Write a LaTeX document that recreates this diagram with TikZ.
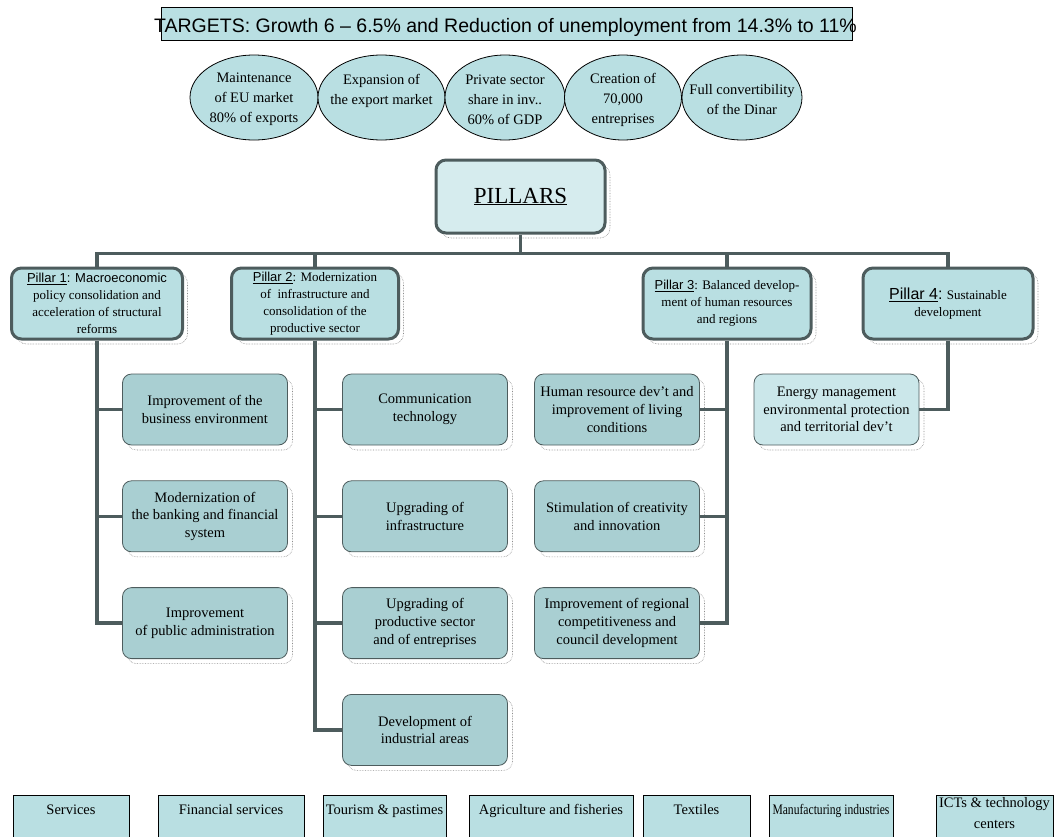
\documentclass[tikz,border=0pt]{standalone}
\usepackage{fontspec}
\setmainfont{Liberation Serif}
\newfontfamily\arialfont{Liberation Sans}
\usepackage{graphicx}
\usepackage{tikz}
\usetikzlibrary{positioning,shapes.geometric,shadows}

\definecolor{tealpale}{HTML}{D6ECEE}
\definecolor{teallight}{HTML}{B9DFE2}
\definecolor{tealmid}{HTML}{A9CFD2}
\definecolor{tealsoft}{HTML}{CBE7EA}
\definecolor{slate}{HTML}{4D5C5D}

\newcommand{\pil}[1]{{\arialfont\underline{Pillar #1}}}

\begin{document}
\begin{tikzpicture}[x=1pt,y=-1pt,
  dotshadow/.style={general shadow={draw=black!45,line width=0.6pt,densely dotted,shadow xshift=5pt,shadow yshift=-5pt}},
  goal/.style={ellipse,draw=black,line width=0.8pt,fill=teallight,minimum height=85pt,inner sep=0pt},
  goaltxt/.style={align=center,font=\fontsize{14.5}{20}\selectfont},
  pillar/.style={draw=slate,line width=3pt,fill=teallight,rounded corners=10pt,align=center,
    minimum width=169pt,minimum height=71pt,inner sep=2pt,font=\fontsize{13}{17}\selectfont,dotshadow},
  sub/.style={draw=slate,line width=0.8pt,fill=#1,rounded corners=9pt,align=center,
    minimum width=165pt,minimum height=71pt,inner sep=2pt,font=\fontsize{14.5}{17.7}\selectfont,dotshadow},
  sector/.style={draw=black,line width=0.8pt,fill=teallight,anchor=north,inner xsep=0pt,inner ysep=8pt,
    text height=11pt,text depth=40pt,font=\fontsize{14.5}{21}\selectfont},
  trunk/.style={draw=slate,line width=3.5pt}]
\useasboundingbox (0,0) rectangle (1058,836);

% targets
\node[draw=black,line width=0.8pt,fill=teallight,minimum width=691pt,minimum height=33pt,inner sep=0pt] (tbox) at (506.5,23.5) {};
\node[anchor=base,inner sep=0pt,font=\arialfont\fontsize{19.5}{22}\selectfont] (targets) at (505.5,32) {TARGETS: Growth 6 – 6.5\% and Reduction of unemployment from 14.3\% to 11\%};

\node[goal,minimum width=128pt] (g1) at (254,97.5) {};
\node[goal,minimum width=127pt] (g2) at (381.5,97.5) {};
\node[goal,minimum width=120pt] (g3) at (505,97.5) {};
\node[goal,minimum width=117pt] (g4) at (623,97.5) {};
\node[goal,minimum width=120pt] (g5) at (742,97.5) {};
\node[goaltxt] (g1t) at ([yshift=-2pt]g1.center) {Maintenance\\of EU market\\80\% of exports};
\node[goaltxt] (g2t) at ([yshift=-2pt]g2.center) {Expansion of\\the export market\\\mbox{}};
\node[goaltxt] (g3t) at ([yshift=-2pt]g3.center) {Private sector\\share in inv..\\60\% of GDP};
\node[goaltxt] (g4t) at ([yshift=-2pt]g4.center) {Creation of\\70,000\\entreprises};
\node[goaltxt] (g5t) at ([yshift=-2pt]g5.center) {Full convertibility\\of the Dinar};

% pillars
\node[draw=slate,line width=3pt,fill=tealpale,rounded corners=10pt,minimum width=169pt,minimum height=73pt,
  font=\fontsize{23}{27}\selectfont,dotshadow] (pillars) at (520.5,196.5) {\underline{PILLARS}};
\coordinate (bus) at ([yshift=-19pt]pillars.south);

\node[pillar,minimum width=171pt] (p1) at (97,303.5) {\pil{1}{\arialfont: Macroeconomic}\\policy consolidation and\\acceleration of structural\\reforms};
\node[pillar,minimum width=167pt] (p2) at (315,303.5) {\pil{2}: Modernization\\of \ infrastructure and\\consolidation of the\\productive sector};
\node[pillar,minimum width=168pt] (p3) at (727,303.5) {\pil{3}: Balanced develop-\\ment of human resources\\and regions};
\node[pillar,minimum width=170pt] (p4) at (948,303.5) {{\arialfont\fontsize{16}{17}\selectfont\underline{Pillar 4}:} Sustainable\\development};

% sub-objectives
\node[sub=tealmid] (c11) at (205,409.5) {Improvement of the\\business environment};
\node[sub=tealmid,below=35pt of c11] (c12) {Modernization of\\the banking and financial\\system};
\node[sub=tealmid,below=35pt of c12] (c13) {Improvement\\of public administration};

\node[sub=tealmid] (c21) at (425,409.5) {Communication\\technology};
\node[sub=tealmid,below=35pt of c21] (c22) {Upgrading of\\infrastructure};
\node[sub=tealmid,below=35pt of c22] (c23) {Upgrading of\\productive sector\\and of entreprises};
\node[sub=tealmid,below=35pt of c23] (c24) {Development of\\industrial areas};

\node[sub=tealmid] (c31) at (617,409.5) {Human resource dev’t and\\improvement of living\\conditions};
\node[sub=tealmid,below=35pt of c31] (c32) {Stimulation of creativity\\and innovation};
\node[sub=tealmid,below=35pt of c32] (c33) {Improvement of regional\\competitiveness and\\council development};

\node[sub=tealsoft] (c41) at (836.5,409.5) {Energy management\\environmental protection\\and territorial dev’t};

% connectors
\draw[trunk] (pillars.south) -- (bus);
\draw[trunk] (p1.north) |- (bus) -| (p4.north);
\draw[trunk] (p2.north) -- (p2.north |- bus);
\draw[trunk] (p3.north) -- (p3.north |- bus);
\draw[trunk] (p1.south) |- (c13.west);
\draw[trunk] (c11.west) -- (c11.west -| p1.south);
\draw[trunk] (c12.west) -- (c12.west -| p1.south);
\draw[trunk] (p2.south) |- (c24.west);
\draw[trunk] (c21.west) -- (c21.west -| p2.south);
\draw[trunk] (c22.west) -- (c22.west -| p2.south);
\draw[trunk] (c23.west) -- (c23.west -| p2.south);
\draw[trunk] (p3.south) |- (c33.east);
\draw[trunk] (c31.east) -- (c31.east -| p3.south);
\draw[trunk] (c32.east) -- (c32.east -| p3.south);
\draw[trunk] (p4.south) |- (c41.east);

% sectors
\node[sector,minimum width=116pt] (s1) at (71,795) {Services};
\node[sector,minimum width=146pt] (s2) at (231,795) {Financial services};
\node[sector,minimum width=123pt] (s3) at (384.5,795) {Tourism \& pastimes};
\node[sector,minimum width=164pt] (s4) at (551,795) {Agriculture and fisheries};
\node[sector,minimum width=107pt] (s5) at (696.5,795) {Textiles};
\node[sector,minimum width=124pt] (s6) at (831,795) {\scalebox{0.8}[1]{Manufacturing industries}};
\node[sector,minimum width=117pt,inner ysep=1pt] (s7) at (994.5,795) {\begin{tabular}[t]{@{}c@{}}ICTs \& technology\\centers\end{tabular}};
\end{tikzpicture}
\end{document}
